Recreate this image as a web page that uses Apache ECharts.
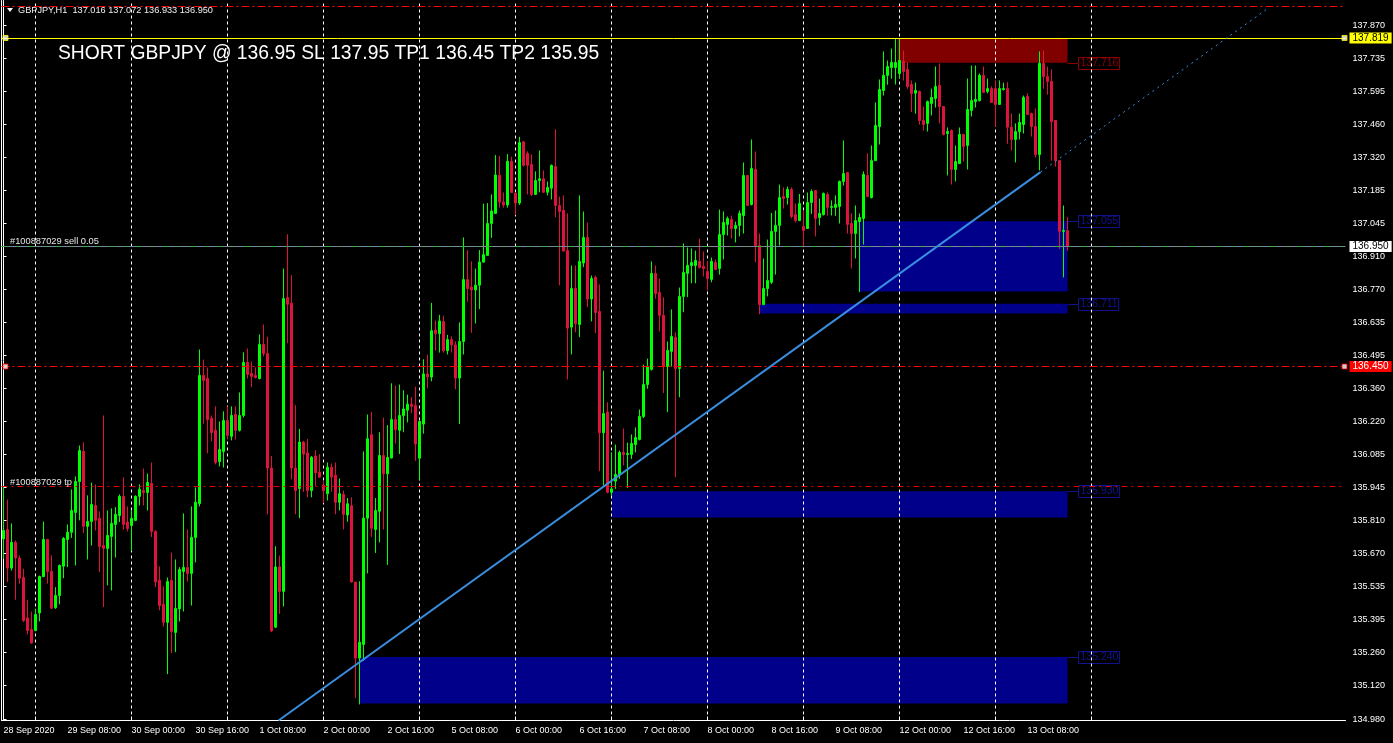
<!DOCTYPE html>
<html>
<head>
<meta charset="utf-8">
<script src="https://cdn.jsdelivr.net/npm/echarts@6/dist/echarts.min.js"></script>
<style>
html,body{margin:0;padding:0;background:#000;overflow:hidden;}
#c{width:1393px;height:743px;}
</style>
</head>
<body>
<div id="c"></div>
<script>
// ---------------- DATA ----------------
const symbolTitle = 'GBPJPY,H1';
const lastOHLC = [137.016, 137.072, 136.933, 136.950];
const tradeTitle = 'SHORT GBPJPY @ 136.95 SL 137.95 TP1 136.45 TP2 135.95';

// H1 bars from 28 Sep 2020 16:00
const opens = [
135.732,135.771,135.610,135.717,135.652,135.571,135.402,135.354,135.350,135.423,
135.575,135.729,135.596,135.445,135.496,135.618,135.729,135.759,135.842,135.971,
136.096,135.784,135.804,135.871,135.817,135.704,135.692,135.742,135.792,135.829,
135.909,135.802,135.788,135.809,135.909,135.934,135.925,135.963,135.763,135.559,
135.459,135.384,135.559,135.342,135.440,135.596,135.613,135.588,135.738,135.879,
136.413,136.400,136.234,136.184,136.054,136.096,136.225,136.159,136.250,136.184,
136.246,136.467,136.421,136.413,136.400,136.542,136.504,136.027,135.364,135.615,
135.513,136.737,136.714,136.027,135.942,136.135,136.090,135.933,136.077,136.010,
135.956,135.920,136.030,135.997,135.884,135.917,135.831,135.870,135.552,135.235,
135.292,135.818,136.166,135.771,135.847,136.079,136.003,136.069,136.229,136.184,
136.246,136.268,136.293,136.287,136.068,136.210,136.419,136.406,136.602,136.587,
136.637,136.516,136.562,136.540,136.402,136.554,136.812,136.781,136.769,136.789,
136.885,136.913,137.046,137.088,137.247,137.135,137.123,137.305,137.172,137.131,
137.386,137.338,137.292,137.167,137.225,137.232,137.176,137.193,137.283,137.121,
137.100,136.933,136.614,136.775,136.625,136.881,136.988,136.731,136.821,136.679,
136.174,136.260,135.926,135.972,136.000,136.092,136.083,136.083,136.125,136.146,
136.242,136.375,136.438,136.838,136.758,136.663,136.450,136.513,136.571,136.442,
136.742,136.838,136.871,136.871,136.888,136.867,136.846,136.813,136.883,136.858,
137.000,137.042,137.063,137.025,137.038,137.079,137.246,137.125,137.271,136.954,
136.708,136.775,136.801,137.013,137.038,137.158,137.154,137.188,137.083,137.058,
137.033,137.025,137.133,137.183,137.071,137.083,137.167,137.113,137.113,137.117,
137.221,137.258,137.046,137.004,137.054,137.067,137.246,137.154,137.308,137.450,
137.600,137.663,137.696,137.696,137.671,137.721,137.688,137.625,137.589,137.596,
137.475,137.463,137.546,137.567,137.621,137.533,137.421,137.433,137.271,137.296,
137.417,137.371,137.517,137.554,137.558,137.663,137.596,137.608,137.608,137.542,
137.604,137.608,137.447,137.396,137.429,137.458,137.575,137.504,137.450,137.333,
137.713,137.658,137.638,137.475,137.308,137.013,137.016];

const highs = [
135.952,135.896,135.796,135.725,135.663,135.607,135.478,135.429,135.441,135.579,
135.804,135.732,135.663,135.531,135.625,135.739,135.792,135.938,135.992,136.121,
136.134,135.913,135.966,135.959,135.846,136.246,135.850,135.859,135.864,135.917,
135.988,135.867,135.850,135.913,135.959,136.025,136.004,136.050,135.767,135.617,
135.534,135.571,135.675,135.646,135.614,135.838,135.771,135.867,135.946,136.521,
136.479,136.446,136.246,136.284,136.221,136.263,136.284,136.284,136.284,136.342,
136.509,136.525,136.471,136.446,136.584,136.625,136.574,136.077,135.701,135.662,
136.858,137.001,136.830,136.289,136.190,136.140,136.148,136.077,136.101,136.085,
135.975,136.050,136.046,136.050,135.983,135.933,135.902,135.905,135.552,135.555,
136.096,136.250,136.261,135.902,136.176,136.237,136.206,136.380,136.370,136.375,
136.351,136.333,136.323,136.366,136.225,136.480,136.499,136.715,136.642,136.665,
136.662,136.582,136.576,136.555,136.634,136.988,136.935,136.888,136.858,136.935,
137.128,137.131,137.167,137.331,137.327,137.175,137.335,137.324,137.175,137.407,
137.389,137.347,137.333,137.263,137.350,137.267,137.221,137.292,137.438,137.158,
137.163,137.088,136.871,136.871,137.163,137.096,137.050,136.829,136.829,136.792,
136.433,136.301,136.093,136.125,136.100,136.192,136.133,136.167,136.196,136.271,
136.458,136.483,136.888,136.871,136.817,136.738,136.554,136.688,136.592,136.779,
136.963,136.946,136.942,136.933,136.983,136.929,136.888,136.904,136.896,137.104,
137.096,137.075,137.079,137.054,137.100,137.300,137.248,137.396,137.346,137.004,
136.900,136.979,137.090,137.100,137.208,137.196,137.200,137.196,137.129,137.169,
137.100,137.175,137.188,137.185,137.150,137.175,137.175,137.142,137.163,137.225,
137.392,137.260,137.088,137.121,137.088,137.263,137.338,137.371,137.550,137.646,
137.763,137.725,137.775,137.819,137.817,137.767,137.717,137.642,137.633,137.600,
137.533,137.558,137.608,137.700,137.713,137.535,137.446,137.438,137.371,137.446,
137.419,137.650,137.704,137.704,137.671,137.700,137.650,137.617,137.642,137.642,
137.633,137.635,137.504,137.463,137.504,137.579,137.588,137.508,137.525,137.763,
137.767,137.700,137.688,137.477,137.310,137.121,137.072];

const lows = [
135.649,135.552,135.600,135.478,135.545,135.385,135.334,135.295,135.347,135.388,
135.572,135.545,135.441,135.440,135.459,135.568,135.614,135.736,135.621,135.809,
135.756,135.646,135.704,135.767,135.593,135.448,135.538,135.517,135.654,135.802,
135.770,135.763,135.681,135.806,135.871,135.871,135.850,135.739,135.531,135.434,
135.367,135.168,135.256,135.260,135.388,135.429,135.554,135.454,135.634,135.867,
136.211,136.088,136.138,136.042,136.034,136.029,136.146,136.142,136.146,136.179,
136.238,136.400,136.364,136.400,136.396,136.492,135.834,135.343,135.360,135.419,
135.450,136.547,135.980,135.834,135.818,135.928,135.905,135.905,135.952,135.987,
135.881,135.892,135.928,135.834,135.850,135.771,135.803,135.550,135.069,135.042,
135.223,135.588,135.740,135.673,135.717,135.771,135.623,136.067,136.129,136.085,
136.176,136.217,136.257,136.057,135.978,136.170,136.359,136.388,136.516,136.508,
136.508,136.500,136.508,136.355,136.210,136.500,136.720,136.590,136.629,136.689,
136.883,136.911,136.986,137.086,137.112,137.112,137.112,137.173,137.081,137.123,
137.283,137.167,137.160,137.165,137.176,137.174,137.163,137.146,137.072,136.788,
136.929,136.396,136.500,136.593,136.572,136.864,136.697,136.638,136.589,136.014,
135.954,135.922,135.912,135.940,135.982,136.038,135.944,136.065,136.092,136.142,
136.235,136.357,136.433,136.732,136.596,136.339,136.260,136.450,135.989,136.322,
136.676,136.739,136.797,136.797,136.858,136.825,136.767,136.801,136.852,136.833,
136.896,136.996,136.983,136.967,136.992,137.004,137.119,137.121,136.885,136.668,
136.706,136.742,136.794,136.833,136.954,137.108,137.125,137.067,137.050,137.056,
136.947,137.023,137.086,136.992,137.038,137.079,137.079,137.079,137.078,137.046,
137.204,137.004,136.858,136.900,136.760,136.958,137.156,137.150,137.306,137.375,
137.579,137.624,137.649,137.625,137.649,137.642,137.607,137.510,137.503,137.458,
137.433,137.429,137.496,137.529,137.463,137.413,137.246,137.208,137.221,137.294,
137.304,137.271,137.492,137.529,137.554,137.590,137.588,137.548,137.450,137.540,
137.600,137.378,137.350,137.300,137.396,137.421,137.498,137.408,137.321,137.267,
137.607,137.583,137.308,137.283,136.940,136.821,136.933];

const closes = [
135.767,135.610,135.717,135.652,135.568,135.392,135.350,135.298,135.417,135.575,
135.729,135.596,135.443,135.496,135.621,135.734,135.759,135.850,135.971,136.100,
135.784,135.804,135.875,135.809,135.700,135.692,135.746,135.796,135.834,135.909,
135.792,135.775,135.817,135.909,135.938,135.925,135.967,135.763,135.552,135.454,
135.384,135.554,135.346,135.442,135.604,135.613,135.588,135.738,135.884,136.413,
136.392,136.229,136.175,136.050,136.104,136.225,136.163,136.246,136.184,136.246,
136.467,136.417,136.409,136.404,136.542,136.504,136.027,135.348,135.615,135.513,
136.733,136.709,136.027,135.933,136.135,136.085,135.933,136.072,136.007,135.989,
135.933,136.030,135.989,135.884,135.920,135.834,135.878,135.552,135.235,135.301,
135.818,136.149,135.776,135.850,136.079,136.003,136.071,136.229,136.187,136.246,
136.273,136.293,136.284,136.127,136.221,136.419,136.406,136.599,136.587,136.640,
136.516,136.562,136.540,136.402,136.554,136.812,136.775,136.769,136.789,136.885,
136.916,137.046,137.098,137.248,137.135,137.123,137.305,137.175,137.131,137.383,
137.288,137.289,137.167,137.225,137.232,137.176,137.196,137.288,137.121,137.096,
136.931,136.610,136.775,136.628,136.888,136.988,136.731,136.817,136.675,136.174,
136.254,135.926,135.940,136.000,136.092,136.083,136.088,136.129,136.154,136.242,
136.375,136.450,136.838,136.754,136.663,136.450,136.517,136.575,136.442,136.742,
136.842,136.871,136.883,136.892,136.863,136.858,136.817,136.888,136.854,137.000,
137.050,137.067,137.025,137.038,137.088,137.246,137.121,137.275,136.954,136.708,
136.775,136.808,137.013,137.038,137.154,137.150,137.188,137.075,137.058,137.129,
137.017,137.133,137.179,137.067,137.088,137.171,137.113,137.117,137.125,137.221,
137.254,137.042,137.004,137.058,137.071,137.250,137.158,137.308,137.454,137.604,
137.663,137.700,137.717,137.717,137.725,137.679,137.617,137.588,137.600,137.475,
137.458,137.554,137.571,137.617,137.533,137.417,137.429,137.271,137.304,137.417,
137.367,137.521,137.558,137.563,137.663,137.592,137.608,137.550,137.542,137.608,
137.608,137.447,137.396,137.429,137.467,137.571,137.500,137.450,137.333,137.713,
137.658,137.638,137.471,137.308,137.013,137.017,136.950];

// x axis: 336 hourly slots (bars + right-side shift)
const slotCount = 336;
const xTickLabels = ['28 Sep 2020','29 Sep 08:00','30 Sep 00:00','30 Sep 16:00','1 Oct 08:00',
  '2 Oct 00:00','2 Oct 16:00','5 Oct 08:00','6 Oct 00:00','6 Oct 16:00','7 Oct 08:00',
  '8 Oct 00:00','8 Oct 16:00','9 Oct 08:00','12 Oct 00:00','12 Oct 16:00','13 Oct 08:00'];
const xLabelStep = 16;
// midnight bars (vertical grid)
const dayStartIdx = [8,32,56,80,104,128,152,176,200,224,248,272];

// y axis tick labels
const yTickValues = [137.870,137.735,137.595,137.460,137.320,137.185,137.045,136.910,136.770,
  136.635,136.495,136.360,136.220,136.085,135.945,135.810,135.670,135.535,135.395,135.260,
  135.120,134.980];
const yMin = 134.975, yMax = 137.975;

// price levels
const slLevel = 137.95, rangeHigh = 137.819, entryLevel = 136.95, tp1Level = 136.45, tpLevel = 135.95;

// zones: [startBar, endBar, top, bottom, tagPrice]
const zoneRed   = [[223.5, 266, 137.819, 137.716, 137.716]];
const zoneBlue  = [[214, 266, 137.055, 136.762, 137.055],
                   [189, 266, 136.711, 136.671, 136.711],
                   [152, 266, 135.930, 135.821, 135.930],
                   [89,  266, 135.240, 135.046, 135.240]];

// trend line: [bar, price]
const trendSolid = [[68.75, 134.975], [259.25, 137.260]];
const trendRay   = [[259.25, 137.260], [316.25, 137.944]];

// ---------------- CHART ----------------
const FONT = 'Liberation Sans';
const categories = [];
for (let i = 0; i < slotCount; i++) categories.push(String(i));
const candleData = opens.map((o, i) => [o, closes[i], lows[i], highs[i]]);

const zoneRows = zoneRed.map(r => r.concat(['#800000', '#8b0000']))
  .concat(zoneBlue.map(r => r.concat(['#00008b', '#12128e'])));

const chart = echarts.init(document.getElementById('c'), null, {renderer: 'canvas'});

const option = {
  backgroundColor: '#000',
  animation: false,
  grid: {left: 1.5, right: 47.5, top: 0.5, bottom: 22.5, containLabel: false, outerBoundsMode: 'none'},
  xAxis: [{
    type: 'category', data: categories, boundaryGap: true,
    axisLine: {show: true, lineStyle: {color: '#fff', width: 1}},
    axisTick: {show: true, alignWithLabel: true, inside: true, length: 4,
      interval: (i) => dayStartIdx.indexOf(i) >= 0, lineStyle: {color: '#fff'}},
    axisLabel: {show: true, align: 'left', color: '#fff', fontFamily: FONT, fontSize: 9, margin: 6,
      interval: (i) => i % xLabelStep === 0 && i / xLabelStep < xTickLabels.length,
      formatter: (v, i) => xTickLabels[i / xLabelStep] || ''},
    splitLine: {show: false}
  }, {
    type: 'value', min: -0.5, max: slotCount - 0.5, show: false
  }],
  yAxis: [{
    type: 'value', position: 'right', min: yMin, max: yMax,
    axisLine: {show: true, lineStyle: {color: '#fff', width: 1}},
    axisTick: {show: true, customValues: yTickValues, length: 3, lineStyle: {color: '#fff'}},
    axisLabel: {show: true, customValues: yTickValues, color: '#fff', fontFamily: FONT, fontSize: 9,
      margin: 7, formatter: v => Number(v).toFixed(3)},
    splitLine: {show: false}
  }, {
    type: 'value', position: 'left', min: yMin, max: yMax,
    axisLine: {show: true, lineStyle: {color: '#fff', width: 1}},
    axisTick: {show: false}, axisLabel: {show: false}, splitLine: {show: false}
  }],
  series: [
    {
      type: 'custom', name: 'zones', xAxisIndex: 1, yAxisIndex: 0, z: 1, silent: true,
      encode: {x: [0, 1], y: [2, 3]},
      data: zoneRows,
      renderItem: function (params, api) {
        const row = zoneRows[params.dataIndex];
        const p0 = api.coord([row[0], row[2]]);
        const p1 = api.coord([row[1], row[3]]);
        const pl = api.coord([row[1], row[4]]);
        const fill = row[5], tag = row[6];
        const ly = Math.round(pl[1]) + 0.5;
        return {
          type: 'group',
          children: [
            {type: 'rect', shape: {x: p0[0], y: p0[1], width: p1[0] - p0[0], height: p1[1] - p0[1]},
             style: {fill: fill}},
            {type: 'line', shape: {x1: p1[0], y1: ly, x2: p1[0] + 11, y2: ly},
             style: {stroke: tag, lineWidth: 1}},
            {type: 'text', x: p1[0] + 11, y: ly,
             style: {text: row[4].toFixed(3), fill: tag, fontFamily: FONT, fontSize: 10.5,
                     verticalAlign: 'middle', align: 'left', padding: [1, 1, 0, 2],
                     borderColor: tag, borderWidth: 1, lineHeight: 11}}
          ]
        };
      }
    },
    {
      type: 'line', name: 'trend', xAxisIndex: 1, yAxisIndex: 0, z: 5, silent: true,
      data: trendSolid, symbol: 'none', lineStyle: {color: '#3a8ee0', width: 2},
      markLine: {
        z: 2, silent: true, symbol: ['none', 'none'], animation: false,
        label: {show: false},
        lineStyle: {color: '#ffffff', type: [3, 3], width: 1},
        data: dayStartIdx.map(v => ({xAxis: v}))
      }
    },
    {
      type: 'candlestick', name: 'GBPJPY', xAxisIndex: 0, yAxisIndex: 0, z: 3, silent: true,
      data: candleData, barWidth: 2,
      itemStyle: {color: '#00ff00', color0: '#dc143c', borderColor: '#00ff00', borderColor0: '#dc143c',
        borderColorDoji: '#00ff00', borderWidth: 1}
    },
    {
      type: 'line', name: 'trendRay', xAxisIndex: 1, yAxisIndex: 0, z: 5, silent: true,
      data: trendRay, symbol: 'none', lineStyle: {color: '#3a8ee0', width: 1, type: [2, 4]},
      markLine: {
        z: 4, silent: true, symbol: ['none', 'none'], animation: false, precision: 3,
        label: {show: false},
        data: [
          {yAxis: slLevel, lineStyle: {color: '#ff0000', type: [8, 3, 2, 3], width: 1}},
          {yAxis: rangeHigh, lineStyle: {color: '#ffff00', type: 'solid', width: 1},
           label: {show: true, position: 'end', distance: 4, formatter: p => Number(p.value).toFixed(3),
             backgroundColor: '#ffff00', color: '#000', fontFamily: FONT, fontSize: 10, padding: [1, 3, 0, 3], lineHeight: 10}},
          {yAxis: entryLevel, lineStyle: {color: '#778899', type: 'solid', width: 1},
           label: {show: true, position: 'end', distance: 4, formatter: p => Number(p.value).toFixed(3),
             backgroundColor: '#ffffff', color: '#000', fontFamily: FONT, fontSize: 10, padding: [1, 3, 0, 3], lineHeight: 10}},
          {yAxis: entryLevel, lineStyle: {color: '#2fb52f', type: [5, 10, 2, 10], width: 1}},
          {yAxis: tp1Level, lineStyle: {color: '#ff0000', type: [8, 3, 2, 3], width: 1},
           label: {show: true, position: 'end', distance: 4, formatter: p => Number(p.value).toFixed(3),
             backgroundColor: '#ff0000', color: '#fff', fontFamily: FONT, fontSize: 10, padding: [1, 3, 0, 3], lineHeight: 10}},
          {yAxis: tpLevel, lineStyle: {color: '#e00000', type: [6, 4, 2, 4], width: 1}}
        ]
      }
    },
    {
      type: 'scatter', name: 'handles', xAxisIndex: 1, yAxisIndex: 0, z: 6, silent: true,
      symbol: 'rect', symbolSize: 5,
      data: [
        {value: [0.5, rangeHigh], itemStyle: {color: '#fff', borderColor: '#ffff00', borderWidth: 1}},
        {value: [335.25, rangeHigh], itemStyle: {color: '#fff', borderColor: '#ffff00', borderWidth: 1}},
        {value: [0.5, tp1Level], itemStyle: {color: '#fff', borderColor: '#ff0000', borderWidth: 1}},
        {value: [335.25, tp1Level], itemStyle: {color: '#fff', borderColor: '#ff0000', borderWidth: 1}}
      ]
    }
  ],
  graphic: [
    {type: 'polygon', shape: {points: [[7, 8], [13, 8], [10, 12]]}, style: {fill: '#fff'}, z: 10},
    {type: 'text', x: 18, y: 10, z: 10,
     style: {text: symbolTitle + '  ' + lastOHLC.map(v => v.toFixed(3)).join(' '), fill: '#f0f0f0',
       fontFamily: FONT, fontSize: 9.2, verticalAlign: 'middle', align: 'left'}},
    {type: 'text', x: 58, y: 53.5, z: 10,
     style: {text: tradeTitle, fill: '#ffffff', fontFamily: FONT, fontSize: 19.3,
       verticalAlign: 'middle', align: 'left'}},
    {type: 'text', x: 10, y: 241, z: 10,
     style: {text: '#100887029 sell 0.05', fill: '#e6e6e6', fontFamily: FONT, fontSize: 9.3,
       verticalAlign: 'middle', align: 'left'}},
    {type: 'text', x: 10, y: 482, z: 10,
     style: {text: '#100887029 tp', fill: '#e6e6e6', fontFamily: FONT, fontSize: 9.3,
       verticalAlign: 'middle', align: 'left'}}
  ]
};

chart.setOption(option);
</script>
</body>
</html>
